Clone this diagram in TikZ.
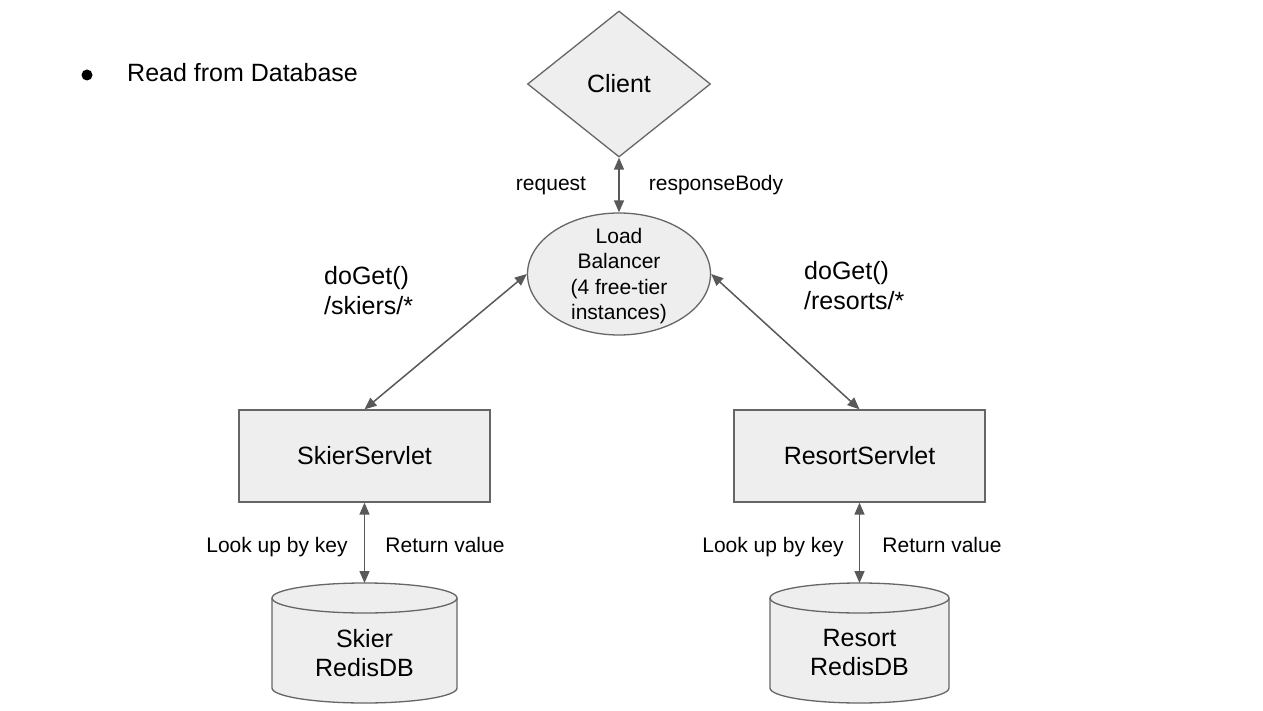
\documentclass[tikz,border=0pt]{standalone}
\usepackage{fontspec}
\setmainfont{Liberation Sans}
\usetikzlibrary{shapes.geometric,arrows.meta}
\definecolor{fillg}{HTML}{EEEEEE}
\definecolor{lineg}{HTML}{666666}
\definecolor{arrg}{HTML}{595959}
\tikzset{
 shapebox/.style={draw=lineg, fill=fillg, line width=1.3pt, font=\fontsize{25}{29}\selectfont, align=center, inner sep=0pt},
 conn/.style={draw=arrg, line width=1.5pt, {Triangle[length=12pt,width=10pt]}-{Triangle[length=12pt,width=10pt]}},
 lbl/.style={font=\fontsize{21}{25}\selectfont, inner sep=0pt, anchor=base},
 big/.style={font=\fontsize{25}{30}\selectfont, inner sep=0pt, align=left},
 cyl/.style={draw=lineg, fill=fillg, line width=1.3pt},
}
\begin{document}
\begin{tikzpicture}[x=1pt,y=-1pt]
\useasboundingbox (0,0) rectangle (1263,711);
\fill[white] (0,0) rectangle (1263,711);
\node[circle, fill=black, inner sep=0pt, minimum size=11pt] (bullet) at (87,75) {};
\node[big, anchor=base west] (title) at (127,81.5) {Read from Database};

\node[shapebox, diamond, minimum width=183pt, minimum height=146pt] (client) at (619,84) {Client};
\node[shapebox, ellipse, minimum width=183pt, minimum height=122pt,
  label={[font=\fontsize{21}{25.3}\selectfont, align=center, inner sep=0pt, yshift=-2pt]center:{Load\\Balancer\\(4 free-tier\\instances)}}] (lb) at (619,274) {};
\node[shapebox, rectangle, minimum width=251pt, minimum height=92pt] (skier) at (364.5,456) {SkierServlet};
\node[shapebox, rectangle, minimum width=251pt, minimum height=92pt] (resort) at (859.5,456) {ResortServlet};

% cylinders
\draw[cyl] (272,598) -- (272,688) arc[start angle=180,end angle=360,x radius=92.5pt,y radius=15pt] -- (457,598) arc[start angle=0,end angle=180,x radius=92.5pt,y radius=15pt] -- cycle;
\draw[cyl, fill=none] (272,598) arc[start angle=180,end angle=360,x radius=92.5pt,y radius=15pt];
\coordinate (skierdbtop) at (364.5,583);
\node[big, align=center, font=\fontsize{25}{29}\selectfont] (skierdb) at (364.5,653) {Skier\\RedisDB};

\draw[cyl] (770,598) -- (770,688) arc[start angle=180,end angle=360,x radius=89.5pt,y radius=15pt] -- (949,598) arc[start angle=0,end angle=180,x radius=89.5pt,y radius=15pt] -- cycle;
\draw[cyl, fill=none] (770,598) arc[start angle=180,end angle=360,x radius=89.5pt,y radius=15pt];
\coordinate (resortdbtop) at (859.5,583);
\node[big, align=center, font=\fontsize{25}{29}\selectfont] (resortdb) at (859.5,653) {Resort\\RedisDB};

% connectors
\draw[conn] (client.south) -- (lb.north);
\draw[conn] (lb.west) -- (skier.north);
\draw[conn] (lb.east) -- (resort.north);
\draw[conn] (skier.south) -- (skierdbtop);
\draw[conn] (resort.south) -- (resortdbtop);

% labels
\node[lbl] (req) at (551,191) {request};
\node[lbl] (resp) at (716,191) {responseBody};
\node[big, anchor=west] (getsk) at (324,291) {doGet()\\/skiers/*};
\node[big, anchor=west] (getre) at (804,286) {doGet()\\/resorts/*};
\node[lbl] (look1) at (277,552) {Look up by key};
\node[lbl] (ret1) at (445,552) {Return value};
\node[lbl] (look2) at (773,552) {Look up by key};
\node[lbl] (ret2) at (942,552) {Return value};
\end{tikzpicture}
\end{document}
